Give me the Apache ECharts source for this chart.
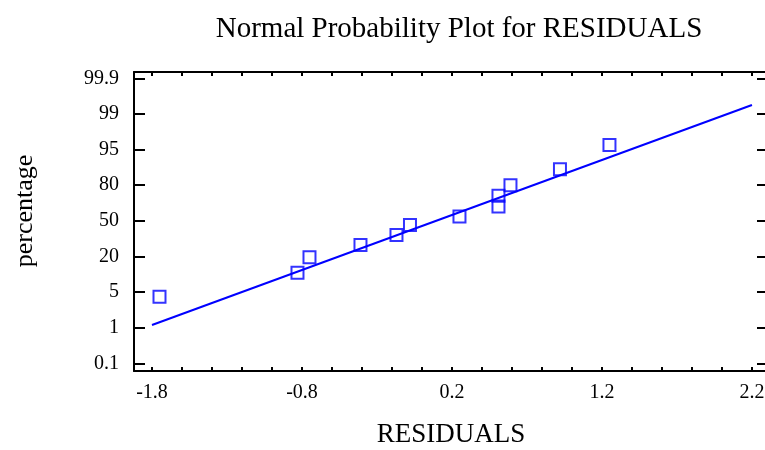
<!DOCTYPE html>
<html>
<head>
<meta charset="utf-8">
<script src="https://cdn.jsdelivr.net/npm/echarts@6/dist/echarts.min.js"></script>
<style>
  html, body { margin: 0; padding: 0; background: #fff; }
  #chart { width: 765px; height: 450px; }
</style>
</head>
<body>
<div id="chart"></div>
<script>
// residuals (x) and their position on the percentage scale (0 = 0.1 ... 8 = 99.9)
const residuals = [-1.75, -0.83, -0.75, -0.41, -0.17, -0.08, 0.25, 0.51, 0.51, 0.59, 0.92, 1.25];
const pctPos = [1.87, 2.54, 2.98, 3.32, 3.60, 3.88, 4.12, 4.40, 4.70, 5.00, 5.45, 6.13];

// fitted reference line endpoints
const fitX = [-1.8, 2.2];
const fitY = [1.075, 7.25];

// tick labels
const pctLabels = ['0.1', '1', '5', '20', '50', '80', '95', '99', '99.9'];
const pctTicks = [0, 1, 2, 3, 4, 5, 6, 7, 8];
const xLabels = [-1.8, -0.8, 0.2, 1.2, 2.2];
const xTicks = [-1.8, -1.6, -1.4, -1.2, -1.0, -0.8, -0.6, -0.4, -0.2, 0, 0.2, 0.4, 0.6, 0.8, 1.0, 1.2, 1.4, 1.6, 1.8, 2.0, 2.2];

const serif = 'Liberation Serif';
const chart = echarts.init(document.getElementById('chart'));

const xBase = {
  type: 'value',
  min: -1.92,
  max: 2.307,
  splitLine: { show: false },
  axisLine: { show: true, onZero: false, lineStyle: { color: '#000', width: 2 } },
  axisTick: { show: true, inside: true, length: 4, customValues: xTicks, lineStyle: { color: '#000', width: 2 } }
};

const yBase = {
  type: 'value',
  min: -0.216,
  max: 8.177,
  splitLine: { show: false },
  axisLine: { show: true, onZero: false, lineStyle: { color: '#000', width: 2 } },
  axisTick: { show: true, inside: true, length: 11, customValues: pctTicks, lineStyle: { color: '#000', width: 2 } }
};

const option = {
  animation: false,
  backgroundColor: '#fff',
  title: {
    text: 'Normal Probability Plot for RESIDUALS',
    left: 454,
    top: 10,
    textAlign: 'center',
    textStyle: { fontFamily: serif, fontSize: 29, fontWeight: 'normal', color: '#000' }
  },
  grid: { left: 134, top: 72, width: 634, height: 299, outerBoundsMode: 'none', containLabel: false },
  xAxis: [
    Object.assign({}, xBase, {
      position: 'bottom',
      name: 'RESIDUALS',
      nameLocation: 'middle',
      nameGap: 50,
      nameTextStyle: { fontFamily: serif, fontSize: 27, color: '#000' },
      axisLabel: {
        customValues: xLabels,
        margin: 12,
        fontFamily: serif,
        fontSize: 20,
        color: '#000',
        formatter: v => v.toFixed(1)
      }
    }),
    Object.assign({}, xBase, { position: 'top', axisLabel: { show: false } })
  ],
  yAxis: [
    Object.assign({}, yBase, {
      position: 'left',
      axisLabel: {
        customValues: pctTicks,
        margin: 15,
        fontFamily: serif,
        fontSize: 20,
        color: '#000',
        formatter: v => pctLabels[Math.round(v)]
      }
    }),
    Object.assign({}, yBase, { position: 'right', axisLabel: { show: false } })
  ],
  graphic: [{
    type: 'text',
    x: 25,
    y: 211,
    rotation: Math.PI / 2,
    style: {
      text: 'percentage',
      fontFamily: serif,
      fontSize: 26,
      fill: '#000',
      align: 'center',
      verticalAlign: 'middle'
    }
  }],
  series: [
    {
      type: 'line',
      data: fitX.map((x, i) => [x, fitY[i]]),
      symbol: 'none',
      lineStyle: { color: '#0000ff', width: 2 },
      silent: true
    },
    {
      type: 'scatter',
      data: residuals.map((x, i) => [x, pctPos[i]]),
      symbol: 'rect',
      symbolSize: 12,
      itemStyle: { color: 'rgba(0,0,0,0)', borderColor: '#0000ff', borderWidth: 2 }
    }
  ]
};

chart.setOption(option);
</script>
</body>
</html>
